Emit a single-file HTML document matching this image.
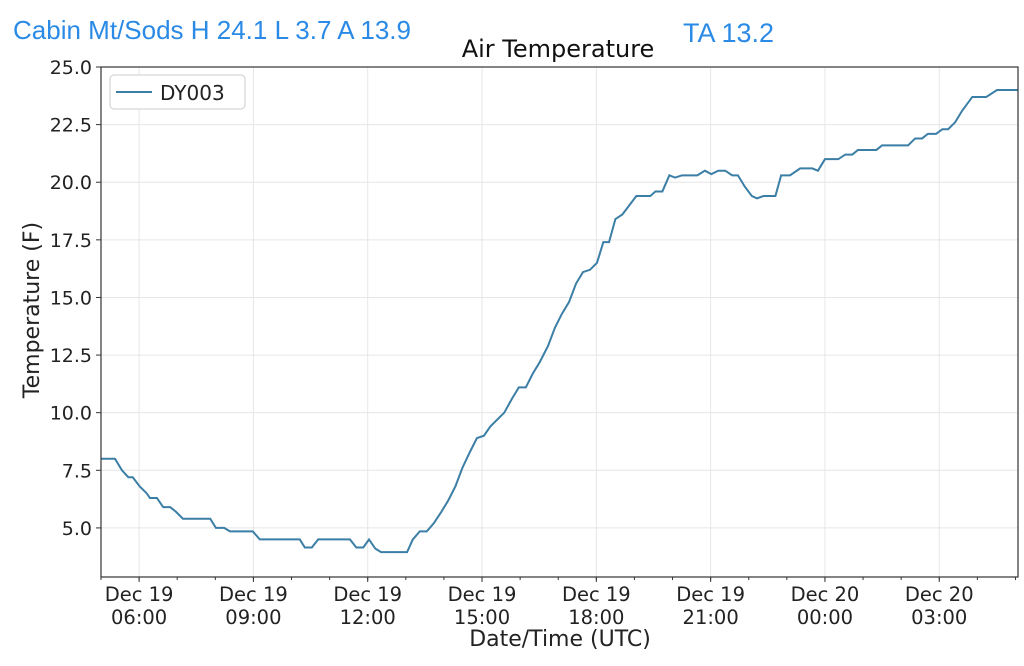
<!DOCTYPE html>
<html><head><meta charset="utf-8"><style>
body{margin:0;background:#fff;width:1024px;height:666px;overflow:hidden;font-family:"Liberation Sans","DejaVu Sans",sans-serif}
.hdr{position:absolute;color:#2a8ae6;font-size:26px;line-height:30px}
svg text{font-family:"DejaVu Sans",sans-serif}
</style></head><body>
<div class="hdr" style="left:13px;top:15px">Cabin Mt/Sods H 24.1 L 3.7 A 13.9</div>
<div class="hdr" style="left:683px;top:18px;font-size:27px">TA 13.2</div>
<svg id="c" width="1024" height="666" style="position:absolute;left:0;top:0"></svg>
<script>
const minutes=[0,22,33,43,50,61,72,77,88,98,109,118,129,172,181,194,203,239,250,313,321,332,342,392,402,413,422,432,441,482,491,502,513,524,536,547,558,569,581,592,603,613,624,635,647,658,669,680,691,704,715,726,737,748,759,770,781,791,800,810,821,832,843,865,873,884,895,904,915,939,951,961,972,983,994,1003,1014,1025,1033,1043,1062,1071,1085,1101,1120,1129,1140,1161,1172,1183,1192,1221,1230,1271,1282,1293,1302,1315,1325,1334,1345,1356,1372,1394,1411,1444];
const temps=[8.0,8.0,7.5,7.2,7.2,6.8,6.5,6.3,6.3,5.9,5.9,5.7,5.4,5.4,5.0,5.0,4.85,4.85,4.5,4.5,4.15,4.15,4.5,4.5,4.15,4.15,4.5,4.1,3.95,3.95,4.5,4.85,4.85,5.2,5.7,6.2,6.8,7.6,8.3,8.9,9.0,9.4,9.7,10.0,10.6,11.1,11.1,11.7,12.2,12.9,13.7,14.3,14.8,15.6,16.1,16.2,16.5,17.4,17.4,18.4,18.6,19.0,19.4,19.4,19.6,19.6,20.3,20.2,20.3,20.3,20.5,20.35,20.5,20.5,20.3,20.3,19.8,19.4,19.3,19.4,19.4,20.3,20.3,20.6,20.6,20.5,21.0,21.0,21.2,21.2,21.4,21.4,21.6,21.6,21.9,21.9,22.1,22.1,22.3,22.3,22.6,23.1,23.7,23.7,24.0,24.0];
const yTicks=[5.0,7.5,10.0,12.5,15.0,17.5,20.0,22.5,25.0];
const xTickMin=[60,240,420,600,780,960,1140,1320];
const xTickLabels=[["Dec 19","06:00"],["Dec 19","09:00"],["Dec 19","12:00"],["Dec 19","15:00"],["Dec 19","18:00"],["Dec 19","21:00"],["Dec 20","00:00"],["Dec 20","03:00"]];
const L=101,R=1018,T=67,B=577,xMax=1444,yMin=2.87,yMax=25;
const X=m=>L+(m/xMax)*(R-L), Y=v=>B-(v-yMin)/(yMax-yMin)*(B-T);
const s=document.getElementById('c');const NS='http://www.w3.org/2000/svg';
function mk(t,a,p){const e=document.createElementNS(NS,t);for(const k in a)e.setAttribute(k,a[k]);(p||s).appendChild(e);return e;}
yTicks.forEach(v=>{const y=Y(v);
const g=mk('line',{x1:L,x2:R,y1:y,y2:y,stroke:'#e6e6e6'});


mk('line',{x1:L-5,x2:L,y1:y,y2:y,stroke:'#333'});
const t=mk('text',{x:L-9,y:y+7,'text-anchor':'end','font-size':19,fill:'#222'});t.textContent=v.toFixed(1);

});
for(let m=0;m<=xMax;m+=60){mk('line',{x1:X(m),x2:X(m),y1:B,y2:B+3,stroke:'#333'});}
xTickMin.forEach((m,i)=>{const x=X(m);
const g=mk('line',{x1:x,x2:x,y1:T,y2:B,stroke:'#e6e6e6'});


mk('line',{x1:x,x2:x,y1:B,y2:B+5,stroke:'#333'});
const t=mk('text',{x:x,y:B+24,'text-anchor':'middle','font-size':19.5,fill:'#222'});


mk('tspan',{x:x},t).textContent=xTickLabels[i][0];mk('tspan',{x:x,dy:23},t).textContent=xTickLabels[i][1];});
const ln=mk('polyline',{points:minutes.map((m,i)=>X(m)+','+Y(temps[i])).join(' '),fill:'none',stroke:'#3b7ea6','stroke-width':2});


const fr=mk('rect',{x:L,y:T,width:R-L,height:B-T,fill:'none',stroke:'#333','stroke-width':1.2});


const lg=mk('g',{});


mk('rect',{x:110,y:75,width:135,height:34,rx:4,fill:'#fff',stroke:'#ccc'},lg);
mk('line',{x1:116,x2:152,y1:92,y2:92,stroke:'#3b7ea6','stroke-width':2},lg);
const lt=mk('text',{x:160,y:100,'font-size':20,fill:'#222'},lg);lt.textContent='DY003';
const tt=mk('text',{x:558,y:57,'text-anchor':'middle','font-size':24,fill:'#111'});tt.textContent='Air Temperature';


const xt=mk('text',{x:560,y:646,'text-anchor':'middle','font-size':22,fill:'#222'});xt.textContent='Date/Time (UTC)';


const yt=mk('text',{x:0,y:0,'text-anchor':'middle','font-size':22,fill:'#222',transform:'translate(39,310) rotate(-90)'});yt.textContent='Temperature (F)';


</script>
</body></html>
